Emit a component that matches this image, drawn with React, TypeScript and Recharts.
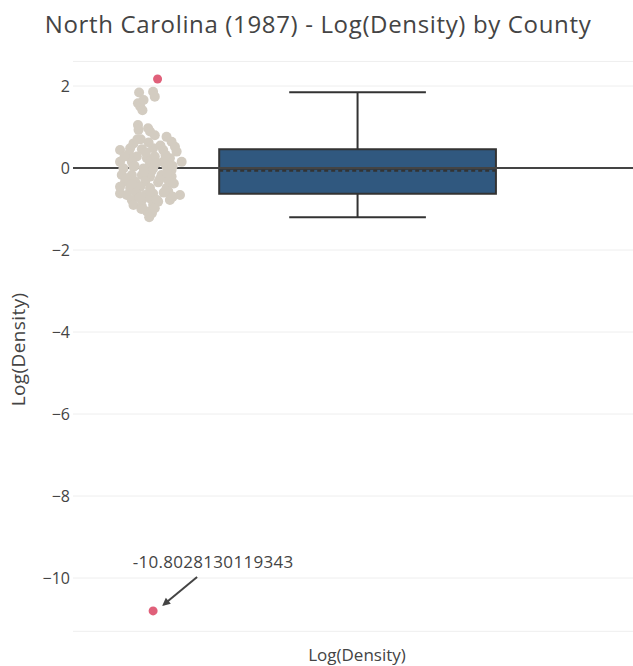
import React from "react";
import {
  ComposedChart,
  Scatter,
  XAxis,
  YAxis,
  CartesianGrid,
  ReferenceArea,
  ReferenceLine,
} from "recharts";

const TITLE = "North Carolina (1987) - Log(Density) by County";
const AXIS_TITLE = "Log(Density)";
const Y_TICKS = [-10, -8, -6, -4, -2, 0, 2];

// jittered county points: [x position, log(density)]
const COUNTY_POINTS: [number, number][] = [
  [11.8, 1.84], [14.3, 1.86], [14.6, 1.74], [11.6, 1.58], [12.0, 1.5],
  [12.4, 1.41], [12.6, 1.66], [11.6, 1.05], [11.7, 0.93], [13.4, 0.97],
  [13.75, 0.89], [14.6, 0.8], [12.1, 0.7], [16.7, 0.76], [10.8, 0.6],
  [17.6, 0.64], [8.4, 0.44], [10.2, 0.48], [12.3, 0.46], [14.3, 0.48],
  [16.1, 0.44], [18.2, 0.52], [18.5, 0.4], [9.9, 0.28], [11.4, 0.28],
  [13.2, 0.24], [14.6, 0.28], [17.3, 0.24], [8.4, 0.15], [10.5, 0.15],
  [13.75, 0.11], [16.1, 0.15], [19.4, 0.15], [9.0, -0.01], [10.8, 0.03],
  [12.6, -0.01], [14.3, -0.01], [16.7, 0.03], [17.6, -0.05], [8.7, -0.17],
  [10.5, -0.17], [12.3, -0.17], [13.75, -0.21], [15.8, -0.17], [17.6, -0.21],
  [9.3, -0.33], [11.1, -0.33], [12.9, -0.33], [15.2, -0.35], [17.0, -0.29],
  [8.4, -0.46], [10.2, -0.49], [12.0, -0.46], [13.75, -0.49], [16.7, -0.49],
  [8.4, -0.62], [9.6, -0.66], [11.4, -0.62], [12.9, -0.66], [14.3, -0.62],
  [17.0, -0.57], [19.1, -0.66], [10.5, -0.78], [12.3, -0.78], [13.75, -0.74],
  [15.2, -0.82], [17.3, -0.78], [10.8, -0.9], [12.3, -0.94], [14.3, -0.9],
  [13.2, -1.06], [14.1, -1.1], [13.6, -1.2],
  [10.0, 0.35], [13.0, 0.38], [16.5, 0.32], [11.0, 0.05], [14.0, -0.08],
  [17.8, 0.05], [9.5, -0.25], [12.7, -0.1], [15.5, -0.27], [18.0, -0.38],
  [10.8, -0.55], [13.8, -0.58], [16.2, -0.6], [11.9, -0.72], [15.0, -0.78],
  [17.8, -0.7], [12.2, -1.0], [14.6, -0.98], [13.5, 0.62], [15.6, 0.55],
  [11.5, 0.7], [10.5, -0.4], [16.8, -0.12], [9.2, 0.28], [14.9, 0.12],
];

const OUTLIER_POINTS: [number, number][] = [
  [15.1, 2.17],
  [14.3, -10.8028130119343],
];

// box summary
const BOX_CENTER = 50.8;
const BOX_HALF = 24.7;
const CAP_HALF = 12.2;
const Q1 = -0.63;
const MEDIAN = -0.02;
const Q3 = 0.46;
const MEAN = -0.065;
const LOWER_FENCE = -1.2;
const UPPER_FENCE = 1.85;

const countyData = COUNTY_POINTS.map(([x, y]) => ({ x, y }));
const outlierData = OUTLIER_POINTS.map(([x, y]) => ({
  x,
  y,
  annotate: y === Math.min(...OUTLIER_POINTS.map((p) => p[1])),
}));

const FONT = "'Open Sans', sans-serif";
const TEXT = "#444";

const fmtTick = (v: number) => (v < 0 ? `\u2212${Math.abs(v)}` : `${v}`);

const OutlierDot = (props: any) => {
  const { cx, cy, payload } = props;
  if (cx == null || cy == null) return null;
  const dot = <circle cx={cx} cy={cy} r={4.5} fill="#e0607a" />;
  if (!payload.annotate) return dot;
  const tx = cx + 44;
  const ty = cy - 34;
  const hx = cx + 9;
  const hy = cy - 5;
  const ang = Math.atan2(hy - ty, hx - tx);
  const len = 9;
  const spread = 0.45;
  const p1 = [hx - len * Math.cos(ang - spread), hy - len * Math.sin(ang - spread)];
  const p2 = [hx - len * Math.cos(ang + spread), hy - len * Math.sin(ang + spread)];
  return (
    <g>
      {dot}
      <line
        x1={tx}
        y1={ty}
        x2={hx - 5 * Math.cos(ang)}
        y2={hy - 5 * Math.sin(ang)}
        stroke="#444"
        strokeWidth={2}
      />
      <polygon points={`${hx},${hy} ${p1[0]},${p1[1]} ${p2[0]},${p2[1]}`} fill="#444" />
      <text
        x={cx + 60}
        y={cy - 43}
        textAnchor="middle"
        fontSize={17}
        letterSpacing={0.3}
        fill={TEXT}
        fontFamily={FONT}
      >
        {String(payload.y)}
      </text>
    </g>
  );
};

const YTitle = (props: any) => {
  const { viewBox } = props;
  const cx = 18;
  const cy = viewBox.y + viewBox.height / 2 + 3;
  return (
    <text
      x={cx}
      y={cy}
      transform={`rotate(-90 ${cx} ${cy})`}
      textAnchor="middle"
      dominantBaseline="central"
      fontSize={19}
      letterSpacing={0.4}
      fill={TEXT}
      fontFamily={FONT}
    >
      {AXIS_TITLE}
    </text>
  );
};

const XTitle = (props: any) => {
  const { viewBox } = props;
  return (
    <text
      x={viewBox.x + viewBox.width / 2}
      y={viewBox.y + 30}
      textAnchor="middle"
      fontSize={17}
      fill={TEXT}
      fontFamily={FONT}
    >
      {AXIS_TITLE}
    </text>
  );
};

export default function App() {
  return (
    <div
      style={{
        position: "absolute",
        left: 0,
        top: 0,
        width: 633,
        height: 666,
        overflow: "hidden",
        background: "#fff",
        fontFamily: FONT,
      }}
    >
      <div
        style={{
          position: "absolute",
          left: 0,
          top: 7,
          width: 636,
          textAlign: "center",
          fontSize: 24,
          letterSpacing: 0.65,
          color: "#444",
          lineHeight: "34px",
        }}
      >
        {TITLE}
      </div>
      <ComposedChart
        width={641}
        height={666}
        margin={{ top: 61.4, right: 0, bottom: 0, left: 0 }}
        style={{ position: "absolute", left: 0, top: 0 }}
      >
        <CartesianGrid vertical={false} stroke="#eee" strokeWidth={1} />
        <XAxis
          type="number"
          dataKey="x"
          domain={[0, 101.4]}
          height={34.7}
          tick={false}
          axisLine={false}
          tickLine={false}
          label={{ content: XTitle }}
        />
        <YAxis
          type="number"
          dataKey="y"
          domain={[-11.3, 2.6]}
          ticks={Y_TICKS}
          tickFormatter={fmtTick}
          tick={{ fill: TEXT, fontSize: 16, fontFamily: FONT }}
          axisLine={false}
          tickLine={false}
          tickSize={0}
          tickMargin={3}
          width={73}
          label={{ content: YTitle }}
        />
        <Scatter
          data={countyData}
          fill="#d3ccc1"
          shape={(p: any) => <circle cx={p.cx} cy={p.cy} r={5} fill="#d3ccc1" />}
          isAnimationActive={false}
        />
        <ReferenceLine
          segment={[
            { x: BOX_CENTER, y: Q3 },
            { x: BOX_CENTER, y: UPPER_FENCE },
          ]}
          stroke="#333"
          strokeWidth={2}
        />
        <ReferenceLine
          segment={[
            { x: BOX_CENTER, y: LOWER_FENCE },
            { x: BOX_CENTER, y: Q1 },
          ]}
          stroke="#333"
          strokeWidth={2}
        />
        <ReferenceLine
          segment={[
            { x: BOX_CENTER - CAP_HALF, y: UPPER_FENCE },
            { x: BOX_CENTER + CAP_HALF, y: UPPER_FENCE },
          ]}
          stroke="#333"
          strokeWidth={2}
        />
        <ReferenceLine
          segment={[
            { x: BOX_CENTER - CAP_HALF, y: LOWER_FENCE },
            { x: BOX_CENTER + CAP_HALF, y: LOWER_FENCE },
          ]}
          stroke="#333"
          strokeWidth={2}
        />
        <ReferenceArea
          x1={BOX_CENTER - BOX_HALF}
          x2={BOX_CENTER + BOX_HALF}
          y1={Q1}
          y2={Q3}
          fill="#30587f"
          fillOpacity={1}
          stroke="#333"
          strokeWidth={2}
        />
        <ReferenceLine
          segment={[
            { x: BOX_CENTER - BOX_HALF, y: MEDIAN },
            { x: BOX_CENTER + BOX_HALF, y: MEDIAN },
          ]}
          stroke="#333"
          strokeWidth={2}
        />
        <ReferenceLine
          segment={[
            { x: BOX_CENTER - BOX_HALF, y: MEAN },
            { x: BOX_CENTER + BOX_HALF, y: MEAN },
          ]}
          stroke="#333"
          strokeWidth={2}
          strokeDasharray="4 3"
        />
        <ReferenceLine y={0} stroke="#444" strokeWidth={2} />
        <Scatter
          data={outlierData}
          shape={OutlierDot}
          isAnimationActive={false}
        />
      </ComposedChart>
    </div>
  );
}
